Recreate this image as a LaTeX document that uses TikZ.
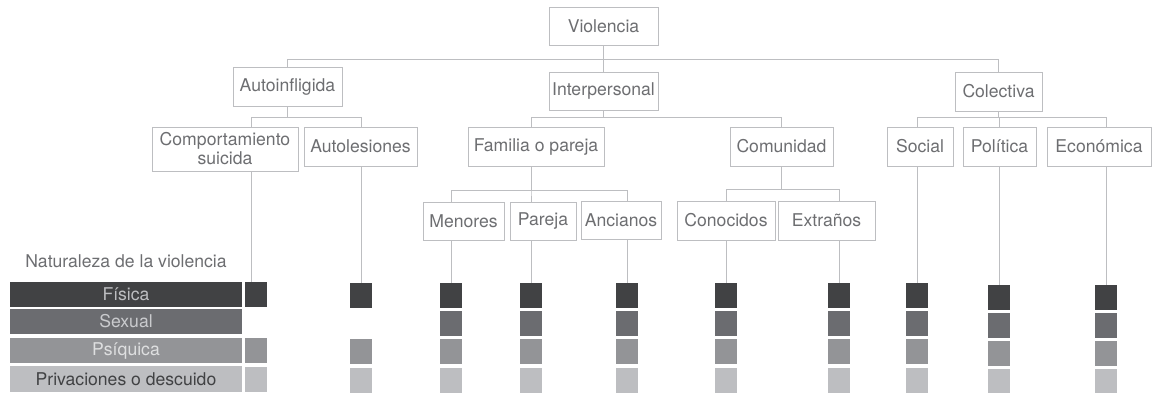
\documentclass[tikz,border=0pt]{standalone}
\usepackage{fontspec}
\setmainfont{TeX Gyre Heros}
\definecolor{edgegray}{HTML}{BDBEC1}
\definecolor{txtgray}{HTML}{6D6E71}
\definecolor{fisc}{HTML}{414244}
\definecolor{sexc}{HTML}{6B6C70}
\definecolor{psic}{HTML}{939497}
\definecolor{pric}{HTML}{BDBEC1}
\begin{document}
\begin{tikzpicture}
  [x=1pt,y=-1pt,
   every node/.style={font=\fontsize{17.6}{19}\selectfont,text=txtgray},
   box/.style={draw=edgegray,line width=1pt,inner sep=0pt,align=center},
   sq/.style={minimum width=22pt,minimum height=25pt,inner sep=0pt},
   bar/.style={minimum width=232pt,minimum height=25pt,inner sep=0pt},
   link/.style={draw=edgegray,line width=1pt},
   elbow/.style={to path={(\tikztostart) -- ++(0,#1) -| (\tikztotarget)}}]
  \useasboundingbox (0,0) rectangle (1155,392);

  % tree
  \node[box,minimum width=109pt,minimum height=38pt] (viol) at (603.5,26) {Violencia};
  \node[box,minimum width=109pt,minimum height=39pt] (aut) at (287.5,86.5) {Autoinfligida};
  \node[box,minimum width=109pt,minimum height=38pt] (inter) at (603.5,91) {Interpersonal};
  \node[box,minimum width=87pt,minimum height=39pt] (col) at (998.5,91.5) {Colectiva};
  \node[box,minimum width=146pt,minimum height=44pt] (sui) at (225,149) {Comportamiento\\suicida};
  \node[box,minimum width=113pt,minimum height=39pt] (les) at (360.5,146.5) {Autolesiones};
  \node[box,minimum width=136pt,minimum height=39pt] (fam) at (536,146.5) {Familia o pareja};
  \node[box,minimum width=103pt,minimum height=39pt] (com) at (781.5,146.5) {Comunidad};
  \node[box,minimum width=66pt,minimum height=39pt] (soc) at (920,146.5) {Social};
  \node[box,minimum width=73pt,minimum height=39pt] (pol) at (999.5,146.5) {Política};
  \node[box,minimum width=104pt,minimum height=39pt] (eco) at (1099,146.5) {Económica};
  \node[box,minimum width=81pt,minimum height=38pt] (men) at (463.5,221) {Menores};
  \node[box,minimum width=66pt,minimum height=38pt] (par) at (543,221) {Pareja};
  \node[box,minimum width=80pt,minimum height=38pt] (anc) at (621,220.5) {Ancianos};
  \node[box,minimum width=98pt,minimum height=39pt] (con) at (726,220.5) {Conocidos};
  \node[box,minimum width=97pt,minimum height=39pt] (ext) at (826.5,220.5) {Extraños};

  % naturaleza
  \node (nat) at (126,261) {Naturaleza de la violencia};
  \node[bar,fill=fisc,text=pric] (fis) at (126,294.5) {Física};
  \node[bar,fill=sexc,text=pric!80!white] (sex) at (126,321.5) {Sexual};
  \node[bar,fill=psic,text=pric!50!white] (psi) at (126,350.5) {Psíquica};
  \node[bar,fill=pric,text=fisc,minimum height=26pt] (pri) at (126,379) {Privaciones o descuido};

  % squares
  \node[sq,fill=fisc] (sui1) at (256,294.5) {}; \node[sq,fill=psic] (sui3) at (256,350.5) {}; \node[sq,fill=pric] (sui4) at (256,379) {};
  \node[sq,fill=fisc] (les1) at (361,295.5) {}; \node[sq,fill=psic] (les3) at (361,351.5) {}; \node[sq,fill=pric] (les4) at (361,380) {};
  \node[sq,fill=fisc] (men1) at (451,295.5) {}; \node[sq,fill=sexc] (men2) at (451,323.5) {}; \node[sq,fill=psic] (men3) at (451,351.5) {}; \node[sq,fill=pric] (men4) at (451,380) {};
  \node[sq,fill=fisc] (par1) at (531,295.5) {}; \node[sq,fill=sexc] (par2) at (531,323.5) {}; \node[sq,fill=psic] (par3) at (531,351.5) {}; \node[sq,fill=pric] (par4) at (531,380) {};
  \node[sq,fill=fisc] (anc1) at (627,295.5) {}; \node[sq,fill=sexc] (anc2) at (627,323.5) {}; \node[sq,fill=psic] (anc3) at (627,351.5) {}; \node[sq,fill=pric] (anc4) at (627,380) {};
  \node[sq,fill=fisc] (con1) at (726,295.5) {}; \node[sq,fill=sexc] (con2) at (726,323.5) {}; \node[sq,fill=psic] (con3) at (726,351.5) {}; \node[sq,fill=pric] (con4) at (726,380) {};
  \node[sq,fill=fisc] (ext1) at (839,295.5) {}; \node[sq,fill=sexc] (ext2) at (839,323.5) {}; \node[sq,fill=psic] (ext3) at (839,351.5) {}; \node[sq,fill=pric] (ext4) at (839,380) {};
  \node[sq,fill=fisc] (soc1) at (917,295.5) {}; \node[sq,fill=sexc] (soc2) at (917,323.5) {}; \node[sq,fill=psic] (soc3) at (917,351.5) {}; \node[sq,fill=pric] (soc4) at (917,380) {};
  \node[sq,fill=fisc] (pol1) at (999,297.5) {}; \node[sq,fill=sexc] (pol2) at (999,325.5) {}; \node[sq,fill=psic] (pol3) at (999,353.5) {}; \node[sq,fill=pric] (pol4) at (999,381.5) {};
  \node[sq,fill=fisc] (eco1) at (1106,297.5) {}; \node[sq,fill=sexc] (eco2) at (1106,325.5) {}; \node[sq,fill=psic] (eco3) at (1106,353.5) {}; \node[sq,fill=pric] (eco4) at (1106,381.5) {};

  \path[link]
    (viol.south) edge[elbow=14] (aut.north)
    (viol.south) edge[elbow=14] (inter.north)
    (viol.south) edge[elbow=14] (col.north)
    (aut.south) edge[elbow=11] ([xshift=-5pt]sui.north -| sui1)
    (aut.south) edge[elbow=11] (les.north -| les1)
    (inter.south) edge[elbow=7] (fam.north -| par1)
    (inter.south) edge[elbow=7] (com.north)
    (col.south) edge[elbow=6] (soc.north -| soc1)
    (col.south) edge[elbow=6] (pol.north -| pol1)
    (col.south) edge[elbow=6] (eco.north -| eco1)
    (fam.south -| par1) edge[elbow=24] (men.north -| men1)
    (fam.south -| par1) edge[elbow=24] (par.north -| par1)
    (fam.south -| par1) edge[elbow=24] (anc.north -| anc1)
    (com.south) edge[elbow=23] (con.north -| con1)
    (com.south) edge[elbow=23] (ext.north -| ext1);

  \path[link]
    ([xshift=-5pt]sui.south -| sui1) edge ([xshift=-5pt]sui1.north)
    (les.south -| les1) edge (les1.north)
    (men.south -| men1) edge (men1.north)
    (par.south -| par1) edge (par1.north)
    (anc.south -| anc1) edge (anc1.north)
    (con.south -| con1) edge (con1.north)
    (ext.south -| ext1) edge (ext1.north)
    (soc.south -| soc1) edge (soc1.north)
    (pol.south -| pol1) edge (pol1.north)
    (eco.south -| eco1) edge (eco1.north);

\end{tikzpicture}
\end{document}
